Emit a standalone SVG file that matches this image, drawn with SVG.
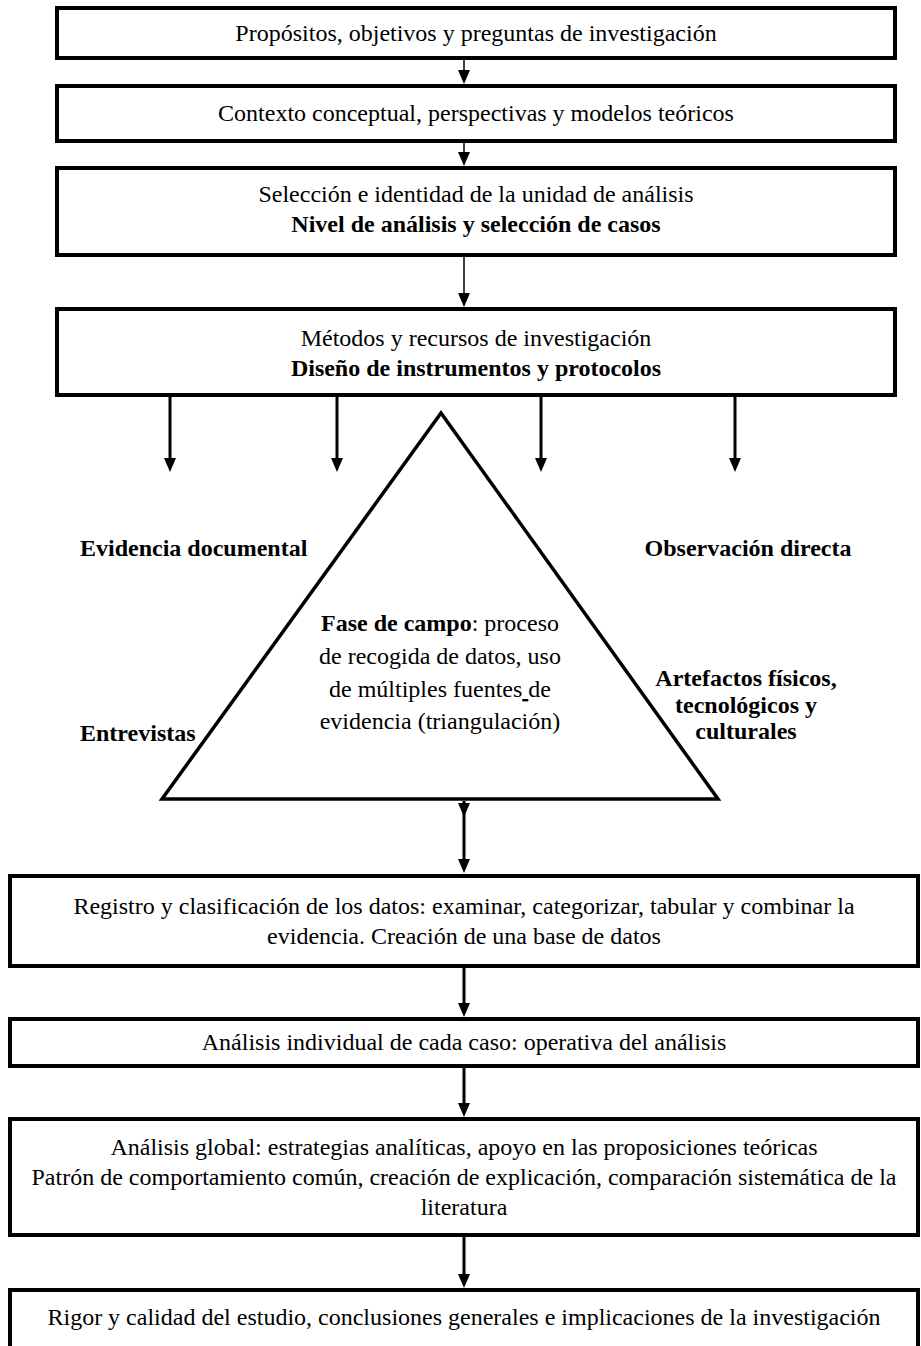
<svg xmlns="http://www.w3.org/2000/svg" width="921" height="1346" viewBox="0 0 921 1346">
<style>
.box{fill:#fff;stroke:#000;stroke-width:4}
.t{font-family:"Liberation Serif","Times New Roman",serif;font-size:24px;fill:#000;text-anchor:middle}
.b{font-weight:bold}
.l{text-anchor:start}
.thin{stroke:#000;stroke-width:1.5;fill:none}
.thick{stroke:#000;stroke-width:3;fill:none}
</style>
<defs>
<marker id="ah" viewBox="0 0 14 12" refX="6" refY="6" markerWidth="14" markerHeight="12" markerUnits="userSpaceOnUse" orient="auto">
<path d="M0,0 L14,6 L0,12 z" fill="#000"/>
</marker>
</defs>
<rect width="921" height="1346" fill="#fff"/>
<g id="n1"><rect class="box" x="57" y="8" width="838" height="50"/>
<text class="t" x="476" y="41">Propósitos, objetivos y preguntas de investigación</text></g>
<g id="n2"><rect class="box" x="57" y="86" width="838" height="55"/>
<text class="t" x="476" y="121">Contexto conceptual, perspectivas y modelos teóricos</text></g>
<g id="n3"><rect class="box" x="57" y="168" width="838" height="87"/>
<text class="t" x="476" y="202">Selección e identidad de la unidad de análisis</text>
<text class="t b" x="476" y="232">Nivel de análisis y selección de casos</text></g>
<g id="n4"><rect class="box" x="57" y="309" width="838" height="86"/>
<text class="t" x="476" y="346">Métodos y recursos de investigación</text>
<text class="t b" x="476" y="376">Diseño de instrumentos y protocolos</text></g>
<g id="n5"><polygon points="441,413 162,799 718,799" fill="#fff" stroke="#000" stroke-width="3.5"/>
<text class="t" x="440" y="631"><tspan class="b">Fase de campo</tspan>: proceso</text>
<text class="t" x="440" y="664">de recogida de datos, uso</text>
<text class="t" x="440" y="697">de múltiples fuentes<tspan text-decoration="underline"> </tspan>de</text>
<text class="t" x="440" y="729">evidencia (triangulación)</text></g>
<g id="n6"><text class="t b l" x="80" y="556">Evidencia documental</text></g>
<g id="n7"><text class="t b" x="748" y="556">Observación directa</text></g>
<g id="n8"><text class="t b l" x="80" y="741">Entrevistas</text></g>
<g id="n9"><text class="t b" x="746" y="686">Artefactos físicos,</text>
<text class="t b" x="746" y="713">tecnológicos y</text>
<text class="t b" x="746" y="739">culturales</text></g>
<g id="n10"><rect class="box" x="10" y="876" width="908" height="90"/>
<text class="t" x="464" y="914">Registro y clasificación de los datos: examinar, categorizar, tabular y combinar la</text>
<text class="t" x="464" y="944">evidencia. Creación de una base de datos</text></g>
<g id="n11"><rect class="box" x="10" y="1019" width="908" height="47"/>
<text class="t" x="464" y="1050">Análisis individual de cada caso: operativa del análisis</text></g>
<g id="n12"><rect class="box" x="10" y="1119" width="908" height="116"/>
<text class="t" x="464" y="1155">Análisis global: estrategias analíticas, apoyo en las proposiciones teóricas</text>
<text class="t" x="464" y="1185">Patrón de comportamiento común, creación de explicación, comparación sistemática de la</text>
<text class="t" x="464" y="1215">literatura</text></g>
<g id="n13"><rect class="box" x="10" y="1290" width="908" height="80"/>
<text class="t" x="464" y="1325">Rigor y calidad del estudio, conclusiones generales e implicaciones de la investigación</text></g>
<g id="connectors">
<path class="thin" d="M464,60 L464,76" marker-end="url(#ah)"/>
<path class="thin" d="M464,143 L464,158" marker-end="url(#ah)"/>
<path class="thin" d="M464,257 L464,299" marker-end="url(#ah)"/>
<path class="thick" d="M170,397 L170,464" marker-end="url(#ah)"/>
<path class="thick" d="M337,397 L337,464" marker-end="url(#ah)"/>
<path class="thick" d="M541,397 L541,464" marker-end="url(#ah)"/>
<path class="thick" d="M735,397 L735,464" marker-end="url(#ah)"/>
<path class="thick" d="M464,801 L464,809 L464,865" marker-mid="url(#ah)" marker-end="url(#ah)"/>
<path class="thick" d="M464,968 L464,1009" marker-end="url(#ah)"/>
<path class="thick" d="M464,1068 L464,1109" marker-end="url(#ah)"/>
<path class="thick" d="M464,1237 L464,1280" marker-end="url(#ah)"/>
</g>
</svg>
